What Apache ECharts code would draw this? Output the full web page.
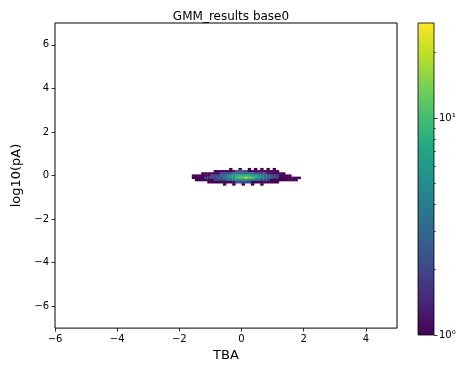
<!DOCTYPE html>
<html>
<head>
<meta charset="utf-8">
<script src="https://cdn.jsdelivr.net/npm/echarts@6/dist/echarts.min.js"></script>
<style>
  html, body { margin: 0; padding: 0; background: #fff; }
  #chart { width: 461px; height: 367px; }
</style>
</head>
<body>
<div id="chart"></div>
<script>
// 2D histogram of (TBA, log10(pA)); bins are 0.1 x 0.1
const binWidth = 0.1;
const binHeight = 0.1;
const xCenters = [-1.55, -1.45, -1.35, -1.25, -1.15, -1.05, -0.95, -0.85, -0.75, -0.65,
                  -0.55, -0.45, -0.35, -0.25, -0.15, -0.05, 0.05, 0.15, 0.25, 0.35,
                  0.45, 0.55, 0.65, 0.75, 0.85, 0.95, 1.05, 1.15, 1.25, 1.35,
                  1.45, 1.55, 1.65, 1.75, 1.85];
const yCenters = [0.3, 0.2, 0.1, 0.0, -0.1, -0.2, -0.3, -0.4];
// counts per bin, one row per y centre (top to bottom)
const countsY030 = [0,0,0,0,0,0,0,0,0,0,0,0,1,0,0,1,0,0,1,0,1,0,1,0,1,0,1,0,0,0,0,0,0,0,0];
const countsY020 = [0,0,0,0,0,0,0,1,1,1,1,1,1,1,2,2,2,2,1,1,1,1,1,1,1,1,1,1,0,0,0,0,0,0,0];
const countsY010 = [0,0,0,1,1,1,1,1,1,2,2,2,2,3,3,3,3,3,3,3,2,2,2,2,1,1,1,1,1,1,0,0,0,0,0];
const countsY000 = [1,1,1,1,1,1,2,2,2,3,3,4,5,6,7,8,8,9,8,7,6,5,4,3,3,2,2,2,1,1,1,1,0,0,0];
const countsYm010 = [1,1,1,1,2,2,2,2,3,3,4,5,6,7,9,11,13,18,13,11,8,6,5,4,3,3,2,2,1,1,1,1,1,1,1];
const countsYm020 = [0,1,1,1,1,1,1,2,2,2,2,3,3,4,4,5,5,5,4,4,3,3,2,2,2,1,1,1,1,1,1,1,1,1,0];
const countsYm030 = [0,0,0,0,0,1,1,1,1,1,1,1,1,1,2,2,2,2,2,1,1,1,1,1,1,1,1,1,0,0,0,0,0,0,0];
const countsYm040 = [0,0,0,0,0,0,0,0,0,0,1,0,0,1,0,0,1,0,0,1,0,0,1,0,0,0,0,0,0,0,0,0,0,0,0];
const countRows = [countsY030, countsY020, countsY010, countsY000,
                   countsYm010, countsYm020, countsYm030, countsYm040];

// colour scale (log norm)
const colorMin = 1;
const colorMax = 27.4;
const colorMajorTicks = [1, 10];
const colorMinorTicks = [2, 3, 4, 5, 6, 7, 8, 9, 20];

// axis ticks
const xTicks = [-6, -4, -2, 0, 2, 4];
const yTicks = [-6, -4, -2, 0, 2, 4, 6];

const viridis = ['#440154', '#482475', '#414487', '#355f8d', '#2a788e', '#21918c',
                 '#22a884', '#44bf70', '#7ad151', '#bddf26', '#fde725'];

const cells = [];
countRows.forEach(function (row, r) {
  row.forEach(function (c, i) {
    if (c > 0) cells.push([xCenters[i], yCenters[r], c, Math.log10(c)]);
  });
});

const minus = function (v) { return String(v).replace('-', '\u2212'); };
const FONT = 'DejaVu Sans';
const tickStyle = { color: '#000', width: 0.8 };

const chart = echarts.init(document.getElementById('chart'), null, { renderer: 'canvas' });

chart.setOption({
  animation: false,
  backgroundColor: '#fff',
  title: {
    text: 'GMM_results base0',
    left: 226, top: 6, textAlign: 'center',
    textStyle: { fontFamily: FONT, fontSize: 12, fontWeight: 'normal', color: '#000' }
  },
  grid: [
    { left: 55, top: 23, width: 342, height: 312, show: true,
      borderColor: '#000', borderWidth: 1, backgroundColor: 'transparent' },
    { left: 418, top: 23, width: 16, height: 312 }
  ],
  visualMap: {
    show: false, type: 'continuous', seriesIndex: 0, dimension: 3,
    min: Math.log10(colorMin), max: Math.log10(colorMax),
    inRange: { color: viridis }
  },
  xAxis: [
    { type: 'value', gridIndex: 0, min: -6, max: 5,
      name: 'TBA', nameLocation: 'middle', nameGap: 15,
      nameTextStyle: { fontFamily: FONT, fontSize: 13, color: '#000' },
      axisLine: { show: false, onZero: false },
      splitLine: { show: false },
      axisTick: { show: true, length: 3.5, lineStyle: tickStyle, customValues: xTicks },
      axisLabel: { fontFamily: FONT, fontSize: 10, color: '#000', margin: 6,
                   customValues: xTicks, formatter: minus } },
    { type: 'value', gridIndex: 1, min: 0, max: 1, show: false }
  ],
  yAxis: [
    { type: 'value', gridIndex: 0, min: -7, max: 7,
      name: 'log10(pA)', nameLocation: 'middle', nameGap: 28,
      nameTextStyle: { fontFamily: FONT, fontSize: 13, color: '#000' },
      axisLine: { show: false, onZero: false },
      splitLine: { show: false },
      axisTick: { show: true, length: 3.5, lineStyle: tickStyle, customValues: yTicks },
      axisLabel: { fontFamily: FONT, fontSize: 10, color: '#000', margin: 6,
                   customValues: yTicks, formatter: minus } },
    { type: 'log', gridIndex: 1, position: 'right', min: colorMin, max: colorMax, logBase: 10,
      axisLine: { show: false, onZero: false }, splitLine: { show: false },
      axisTick: { show: true, length: 3.5, lineStyle: tickStyle, customValues: colorMajorTicks },
      axisLabel: { fontFamily: FONT, fontSize: 10, color: '#000', margin: 5,
                   customValues: colorMajorTicks,
                   formatter: function (v) { return v === 1 ? '10\u2070' : (v === 10 ? '10\u00b9' : ''); } } },
    { type: 'log', gridIndex: 1, position: 'right', min: colorMin, max: colorMax, logBase: 10,
      axisLine: { show: false, onZero: false }, splitLine: { show: false },
      axisTick: { show: true, length: 2, lineStyle: { color: '#000', width: 0.6 }, customValues: colorMinorTicks },
      axisLabel: { show: false } }
  ],
  series: [
    {
      type: 'custom', xAxisIndex: 0, yAxisIndex: 0,
      data: cells,
      renderItem: function (params, api) {
        const x = api.value(0), y = api.value(1);
        const p0 = api.coord([x - binWidth / 2, y + binHeight / 2]);
        const p1 = api.coord([x + binWidth / 2, y - binHeight / 2]);
        return {
          type: 'rect',
          shape: { x: p0[0], y: p0[1], width: p1[0] - p0[0] + 0.3, height: p1[1] - p0[1] + 0.3 },
          style: { fill: api.visual('color') }
        };
      }
    },
    {
      type: 'custom', xAxisIndex: 1, yAxisIndex: 1,
      data: [[0, colorMin, 1, colorMax]],
      renderItem: function (params, api) {
        const p0 = api.coord([api.value(0), api.value(3)]);
        const p1 = api.coord([api.value(2), api.value(1)]);
        return {
          type: 'rect',
          shape: { x: p0[0], y: p0[1], width: p1[0] - p0[0], height: p1[1] - p0[1] },
          style: {
            fill: new echarts.graphic.LinearGradient(0, 1, 0, 0,
              viridis.map(function (c, k) { return { offset: k / (viridis.length - 1), color: c }; })),
            stroke: '#000', lineWidth: 0.8
          }
        };
      }
    }
  ]
});
</script>
</body>
</html>
